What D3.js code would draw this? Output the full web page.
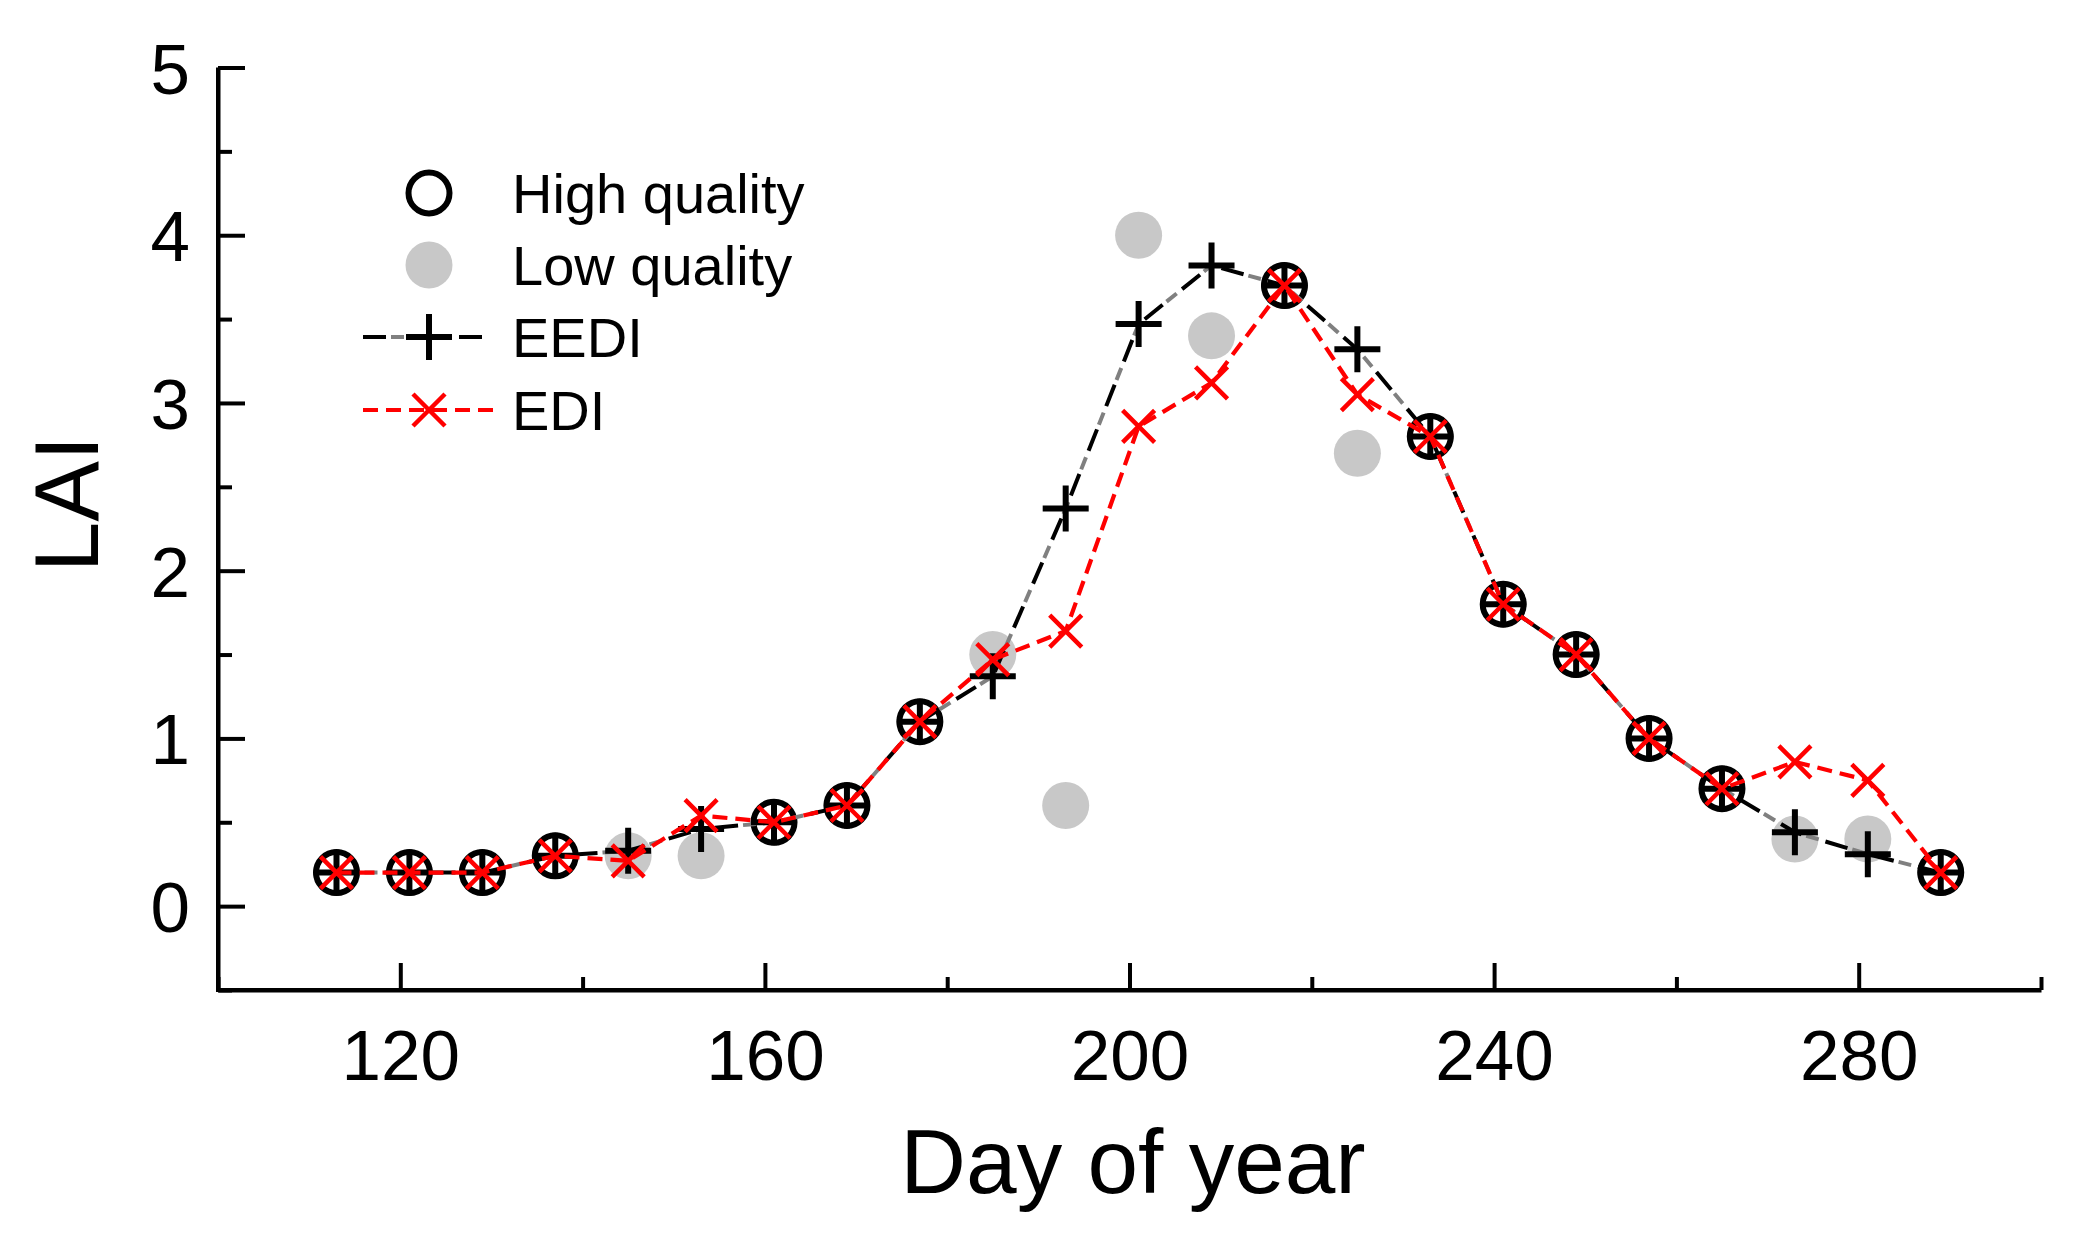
<!DOCTYPE html>
<html>
<head>
<meta charset="utf-8">
<script src="https://cdn.jsdelivr.net/npm/d3@7"></script>
<style>
  body { margin: 0; background: #fff; }
  text { font-family: "Liberation Sans", Arial, sans-serif; fill: #000; }
</style>
</head>
<body>
<svg id="chart"></svg>
<script>
// Day of year for every composite (8-day steps)
const days = [113, 121, 129, 137, 145, 153, 161, 169, 177, 185, 193, 201,
              209, 217, 225, 233, 241, 249, 257, 265, 273, 281, 289];

// Observed LAI split by quality flag
const highDays = [113, 121, 129, 137, 161, 169, 177, 217, 233, 241, 249, 257, 265, 289];
const highLai  = [0.2, 0.2, 0.2, 0.3, 0.5, 0.6, 1.1, 3.7, 2.8, 1.8, 1.5, 1.0, 0.7, 0.2];
const lowDays  = [145, 153, 185, 193, 201, 209, 225, 273, 281];
const lowLai   = [0.3, 0.3, 1.5, 0.6, 4.0, 3.4, 2.7, 0.4, 0.4];

// Reconstructed series
const eediLai = [0.2, 0.2, 0.2, 0.3, 0.33, 0.46, 0.5, 0.6, 1.1, 1.37, 2.37, 3.47,
                 3.82, 3.7, 3.32, 2.8, 1.8, 1.5, 1.0, 0.7, 0.44, 0.31, 0.2];
const ediLai  = [0.2, 0.2, 0.2, 0.3, 0.27, 0.54, 0.5, 0.6, 1.1, 1.47, 1.64, 2.86,
                 3.12, 3.7, 3.05, 2.8, 1.8, 1.5, 1.0, 0.7, 0.86, 0.75, 0.2];

// Axis ticks
const xMajor = [120, 160, 200, 240, 280];
const xMinor = [100, 140, 180, 220, 260, 300];
const yMajor = [0, 1, 2, 3, 4, 5];
const yMinor = [-0.5, 0.5, 1.5, 2.5, 3.5, 4.5];

const legendItems = ['High quality', 'Low quality', 'EEDI', 'EDI'];

const W = 2082, H = 1238;
const GRAY = '#c8c8c8', RED = '#ff0000';

const svg = d3.select('#chart').attr('width', W).attr('height', H);
svg.append('rect').attr('width', W).attr('height', H).attr('fill', '#fff');

const x = d3.scaleLinear().domain([100, 300]).range([218, 2041]);
const y = d3.scaleLinear().domain([-0.5, 5]).range([990, 67.5]);

// ---- axes (ticks point inward) ----
function styleAxis(g, size) {
  g.attr('font-size', null).attr('font-family', null);
  g.selectAll('line').attr('stroke', '#000').attr('stroke-width', 4);
  g.selectAll('path').attr('stroke', '#000').attr('stroke-width', 4);
  g.selectAll('text').style('font-size', size + 'px');
}

const xMinorG = svg.append('g').attr('transform', `translate(0,${y(-0.5)})`)
  .call(d3.axisBottom(x).tickValues(xMinor).tickSize(-13).tickFormat(''));
xMinorG.select('.domain').remove();
styleAxis(xMinorG, 71);

const yMinorG = svg.append('g').attr('transform', `translate(${x(100)},0)`)
  .call(d3.axisLeft(y).tickValues(yMinor).tickSize(-14).tickFormat(''));
yMinorG.select('.domain').remove();
styleAxis(yMinorG, 71);

const xAxisG = svg.append('g').attr('transform', `translate(0,${y(-0.5)})`)
  .call(d3.axisBottom(x).tickValues(xMajor).tickSize(-27).tickSizeOuter(0).tickPadding(40));
styleAxis(xAxisG, 71);

const yAxisG = svg.append('g').attr('transform', `translate(${x(100)},0)`)
  .call(d3.axisLeft(y).tickValues(yMajor).tickSize(-27).tickSizeOuter(0)
    .tickPadding(28).tickFormat(d3.format('d')));
styleAxis(yAxisG, 71);
yAxisG.selectAll('text').attr('dy', '0.36em');

// square off the axis corner
svg.append('path')
  .attr('d', `M${x(100)},${y(5)}V${y(-0.5)}H${x(300)}`)
  .attr('fill', 'none').attr('stroke', '#000').attr('stroke-width', 4)
  .attr('stroke-linejoin', 'miter');

// axis titles
svg.append('text')
  .attr('transform', 'translate(98,504) rotate(-90)')
  .attr('text-anchor', 'middle')
  .style('font-size', '91px')
  .text('LAI');

svg.append('text')
  .attr('x', 1133).attr('y', 1193)
  .attr('text-anchor', 'middle')
  .style('font-size', '91px')
  .text('Day of year');

// ---- marks ----
const lineGen = d3.line().x(d => x(d[0])).y(d => y(d[1]));
const eediPts = days.map((d, i) => [d, eediLai[i]]);
const ediPts = days.map((d, i) => [d, ediLai[i]]);

const plot = svg.append('g');

// low quality: filled gray discs, underneath everything
plot.selectAll('.low').data(lowDays.map((d, i) => [d, lowLai[i]]))
  .join('circle').attr('class', 'low')
  .attr('cx', d => x(d[0])).attr('cy', d => y(d[1]))
  .attr('r', 23.5).attr('fill', GRAY);

// high quality: open black circles
plot.selectAll('.high').data(highDays.map((d, i) => [d, highLai[i]]))
  .join('circle').attr('class', 'high')
  .attr('cx', d => x(d[0])).attr('cy', d => y(d[1]))
  .attr('r', 20.5).attr('fill', 'none').attr('stroke', '#000').attr('stroke-width', 6);

// EEDI line: black dashes alternating with gray dashes
function eediLine(g, pts) {
  g.append('path').attr('d', lineGen(pts))
    .attr('fill', 'none').attr('stroke', '#808080').attr('stroke-width', 4)
    .attr('stroke-dasharray', '13,35').attr('stroke-dashoffset', -28);
  g.append('path').attr('d', lineGen(pts))
    .attr('fill', 'none').attr('stroke', '#000').attr('stroke-width', 4)
    .attr('stroke-dasharray', '23,25');
}
function ediLine(g, pts) {
  g.append('path').attr('d', lineGen(pts))
    .attr('fill', 'none').attr('stroke', RED).attr('stroke-width', 4.2)
    .attr('stroke-dasharray', '15,8');
}
const plusPath = s => `M${-s},0H${s}M0,${-s}V${s}`;
const crossPath = s => `M${-s},${-s}L${s},${s}M${-s},${s}L${s},${-s}`;

function plusMarks(g, pts) {
  g.selectAll(null).data(pts).join('path')
    .attr('transform', d => `translate(${x(d[0])},${y(d[1])})`)
    .attr('d', plusPath(23)).attr('stroke', '#000').attr('stroke-width', 6);
}
function crossMarks(g, pts) {
  g.selectAll(null).data(pts).join('path')
    .attr('transform', d => `translate(${x(d[0])},${y(d[1])})`)
    .attr('d', crossPath(16)).attr('stroke', RED).attr('stroke-width', 4.5);
}

eediLine(plot, eediPts);
plusMarks(plot.append('g'), eediPts);
ediLine(plot, ediPts);
crossMarks(plot.append('g'), ediPts);

// ---- legend ----
const legend = svg.append('g');
const lx = 429, ly = [193, 265, 337, 410];

legend.append('circle').attr('cx', lx).attr('cy', ly[0]).attr('r', 20.5)
  .attr('fill', 'none').attr('stroke', '#000').attr('stroke-width', 6);
legend.append('circle').attr('cx', lx).attr('cy', ly[1]).attr('r', 23.5).attr('fill', GRAY);

eediLine(legend, [[x.invert(363), y.invert(ly[2])], [x.invert(482), y.invert(ly[2])]]);
plusMarks(legend.append('g'), [[x.invert(lx), y.invert(ly[2])]]);
ediLine(legend, [[x.invert(363), y.invert(ly[3])], [x.invert(497), y.invert(ly[3])]]);
crossMarks(legend.append('g'), [[x.invert(lx), y.invert(ly[3])]]);

legend.selectAll('.legend-label').data(legendItems)
  .join('text').attr('class', 'legend-label')
  .attr('x', 512).attr('y', (d, i) => ly[i] + 20)
  .style('font-size', '56px')
  .text(d => d);
</script>
</body>
</html>
